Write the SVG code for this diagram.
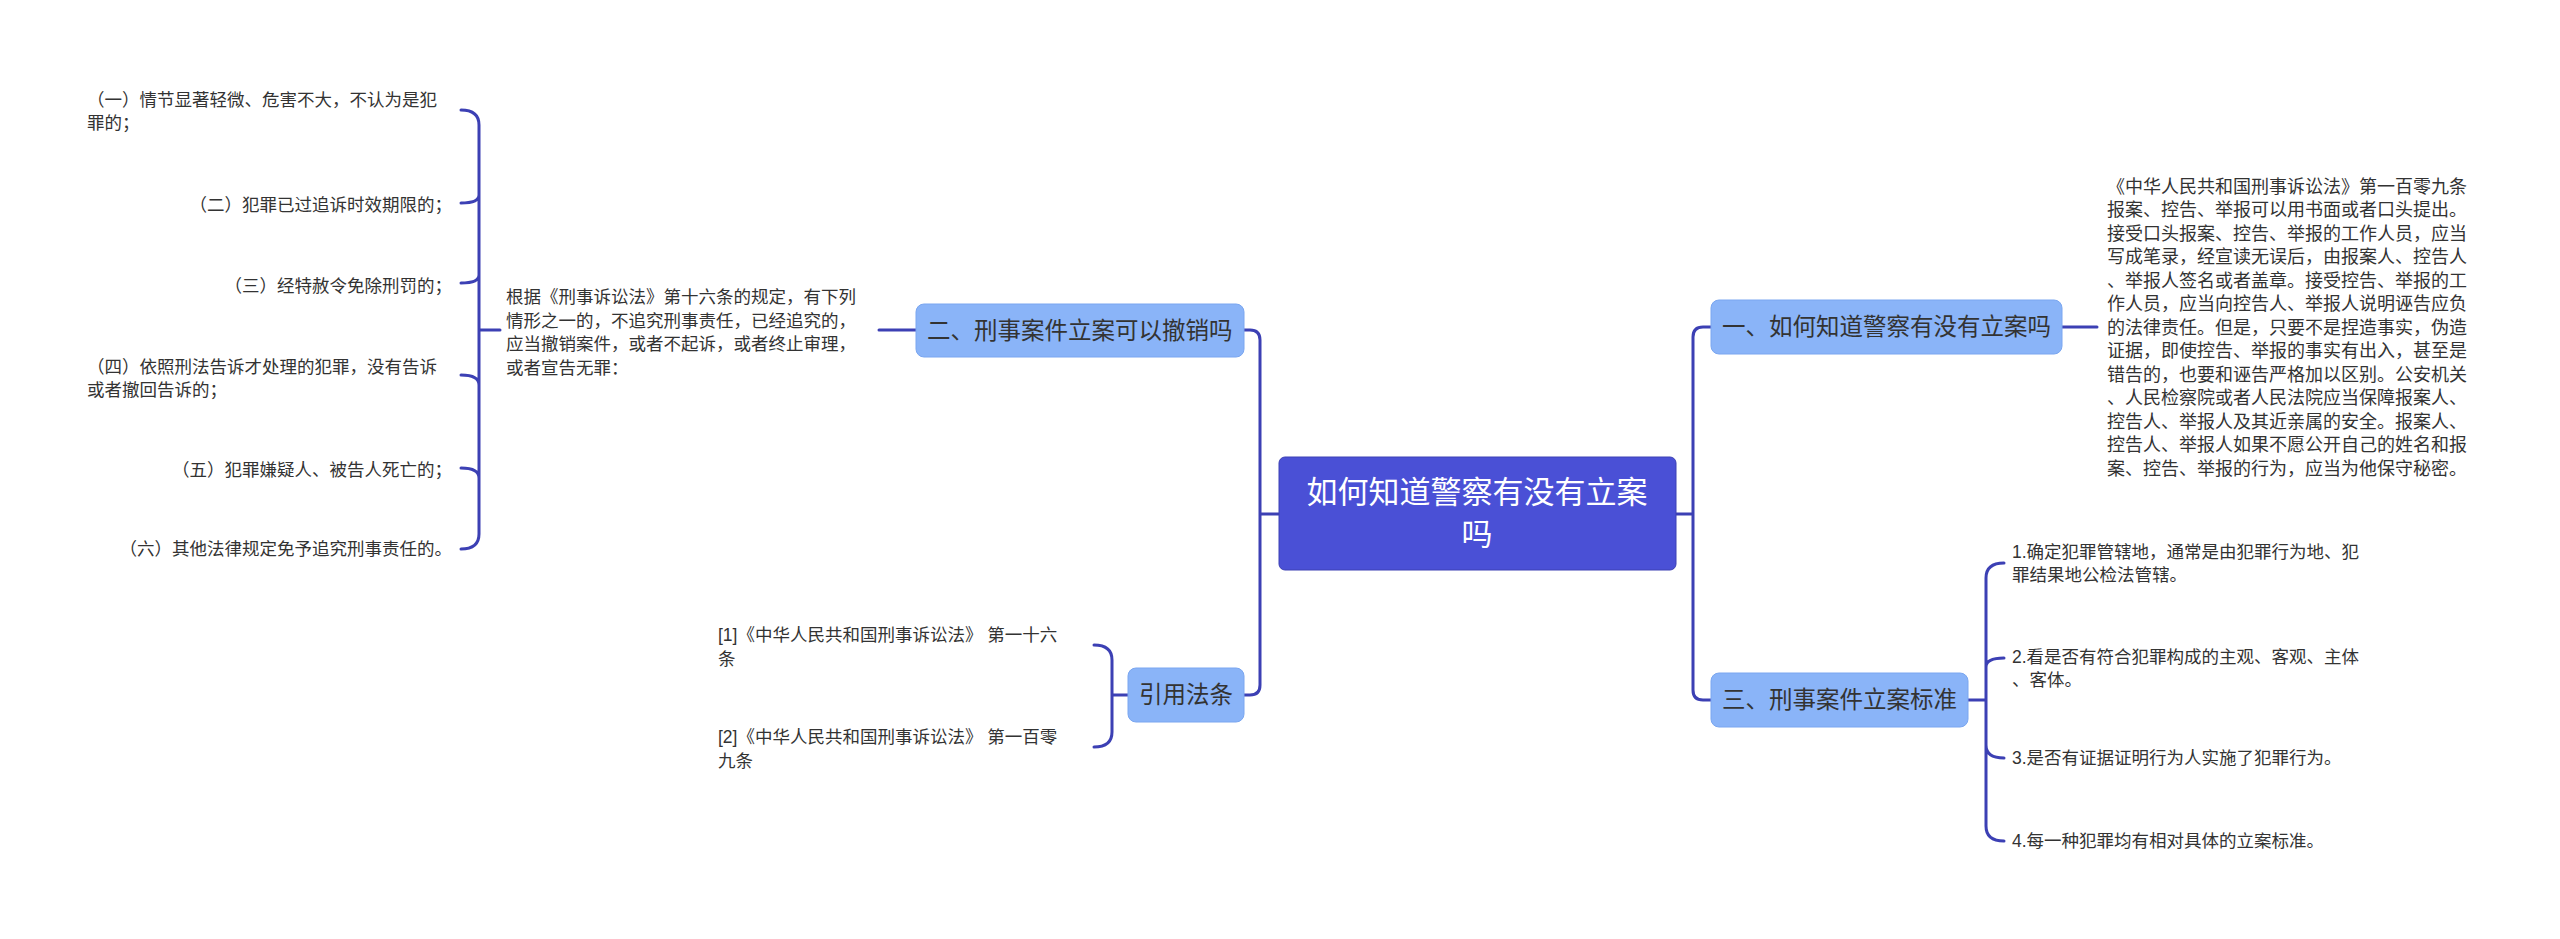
<svg xmlns="http://www.w3.org/2000/svg" width="2560" height="939" viewBox="0 0 2560 939">
<style>
text{font-family:"Liberation Sans","Noto Sans CJK SC",sans-serif;fill:#333}
.leaf{font-size:17.5px}
.par{font-size:18px}
.sub{font-size:23.5px}
.c{fill:none;stroke:#3c40b4;stroke-width:3;stroke-linecap:round}
.sb{fill:#8ab4f8;stroke:#7aa6f0;stroke-width:1}
</style>
<rect width="2560" height="939" fill="#fff"/>
<g id="connectors">
<path class="c" d="M1676 514H1693M1711 327H1703Q1693 327 1693 337V690Q1693 700 1703 700H1711"/>
<path class="c" d="M2062 327H2097"/>
<path class="c" d="M1968 700H1986M2004 563Q1986 563 1986 578V826Q1986 841 2004 841M1986 667Q1986 658 2004 658M1986 745Q1986 758 2004 758M1986 700"/>
<path class="c" d="M1279 514H1260M1244 330H1250Q1260 330 1260 340V685Q1260 695 1250 695H1244"/>
<path class="c" d="M916 330H879M500 330H479M461 110Q479 110 479 125V534Q479 549 461 549M479 195Q479 203 461 203M479 275Q479 283 461 283M479 385Q479 375 461 375M479 478Q479 468 461 468"/>
<path class="c" d="M1128 695H1112M1094 645Q1112 645 1112 660V732Q1112 747 1094 747"/>
</g>
<g id="center">
<rect x="1279" y="457" width="397" height="113" rx="6" fill="#4a50d6" stroke="#3c40b4"/>
<text x="1477" y="503" font-size="31" text-anchor="middle" style="fill:#fff">如何知道警察有没有立案</text>
<text x="1477" y="545" font-size="31" text-anchor="middle" style="fill:#fff">吗</text>
</g>
<g id="n1">
<rect class="sb" x="1711" y="300" width="351" height="54" rx="8"/>
<text class="sub" x="1722" y="335">一、如何知道警察有没有立案吗</text>
</g>
<g id="n1p" class="par">
<text x="2107" y="193">《中华人民共和国刑事诉讼法》第一百零九条</text>
<text x="2107" y="216">报案、控告、举报可以用书面或者口头提出。</text>
<text x="2107" y="240">接受口头报案、控告、举报的工作人员，应当</text>
<text x="2107" y="263">写成笔录，经宣读无误后，由报案人、控告人</text>
<text x="2107" y="287">、举报人签名或者盖章。接受控告、举报的工</text>
<text x="2107" y="310">作人员，应当向控告人、举报人说明诬告应负</text>
<text x="2107" y="334">的法律责任。但是，只要不是捏造事实，伪造</text>
<text x="2107" y="357">证据，即使控告、举报的事实有出入，甚至是</text>
<text x="2107" y="381">错告的，也要和诬告严格加以区别。公安机关</text>
<text x="2107" y="404">、人民检察院或者人民法院应当保障报案人、</text>
<text x="2107" y="428">控告人、举报人及其近亲属的安全。报案人、</text>
<text x="2107" y="451">控告人、举报人如果不愿公开自己的姓名和报</text>
<text x="2107" y="475">案、控告、举报的行为，应当为他保守秘密。</text>
</g>
<g id="n3">
<rect class="sb" x="1711" y="673" width="257" height="54" rx="8"/>
<text class="sub" x="1722" y="708">三、刑事案件立案标准</text>
</g>
<g id="n3c" class="leaf">
<text x="2012" y="558">1.确定犯罪管辖地，通常是由犯罪行为地、犯</text>
<text x="2012" y="581">罪结果地公检法管辖。</text>
<text x="2012" y="663">2.看是否有符合犯罪构成的主观、客观、主体</text>
<text x="2012" y="686">、客体。</text>
<text x="2012" y="764">3.是否有证据证明行为人实施了犯罪行为。</text>
<text x="2012" y="847">4.每一种犯罪均有相对具体的立案标准。</text>
</g>
<g id="n2">
<rect class="sb" x="916" y="304" width="328" height="53" rx="8"/>
<text class="sub" x="927" y="339">二、刑事案件立案可以撤销吗</text>
</g>
<g id="n2p" class="leaf">
<text x="506" y="303">根据《刑事诉讼法》第十六条的规定，有下列</text>
<text x="506" y="327">情形之一的，不追究刑事责任，已经追究的，</text>
<text x="506" y="350">应当撤销案件，或者不起诉，或者终止审理，</text>
<text x="506" y="374">或者宣告无罪：</text>
</g>
<g id="n2c" class="leaf">
<text x="87" y="106">（一）情节显著轻微、危害不大，不认为是犯</text>
<text x="87" y="129">罪的；</text>
<text x="452" y="211" text-anchor="end">（二）犯罪已过追诉时效期限的；</text>
<text x="452" y="292" text-anchor="end">（三）经特赦令免除刑罚的；</text>
<text x="87" y="373">（四）依照刑法告诉才处理的犯罪，没有告诉</text>
<text x="87" y="396">或者撤回告诉的；</text>
<text x="452" y="476" text-anchor="end">（五）犯罪嫌疑人、被告人死亡的；</text>
<text x="452" y="555" text-anchor="end">（六）其他法律规定免予追究刑事责任的。</text>
</g>
<g id="n4">
<rect class="sb" x="1128" y="668" width="116" height="54" rx="8"/>
<text class="sub" x="1186" y="703" text-anchor="middle">引用法条</text>
</g>
<g id="n4c" class="leaf">
<text x="718" y="641">[1]《中华人民共和国刑事诉讼法》 第一十六</text>
<text x="718" y="665">条</text>
<text x="718" y="743">[2]《中华人民共和国刑事诉讼法》 第一百零</text>
<text x="718" y="767">九条</text>
</g>
</svg>
